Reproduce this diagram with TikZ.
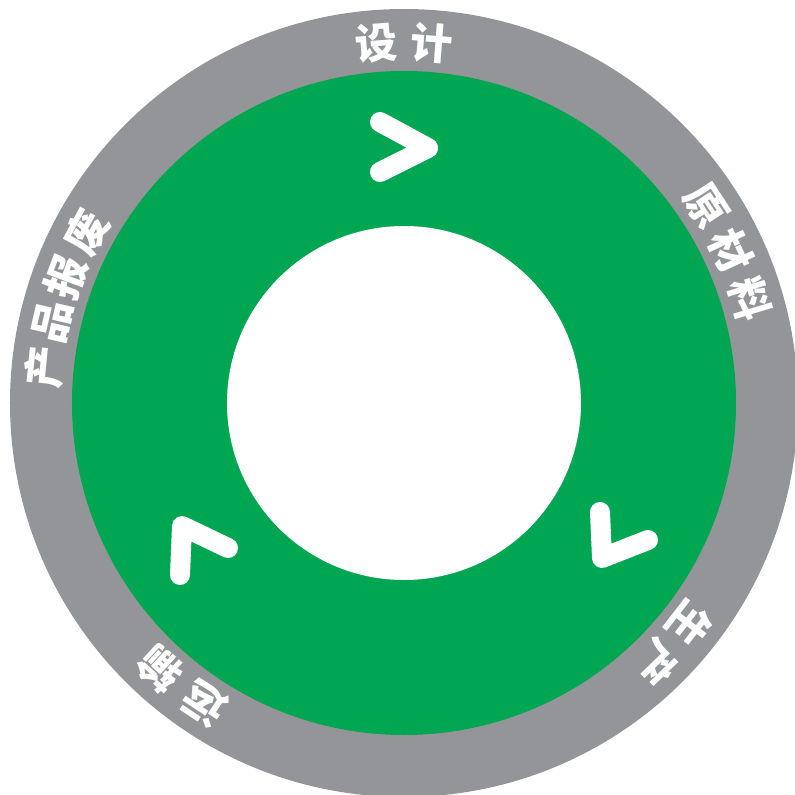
\documentclass[tikz,border=0pt]{standalone}
\usepackage{fontspec}
\newfontfamily\cjk{Noto Sans CJK SC}
\definecolor{ringgray}{RGB}{147, 149, 152}
\definecolor{cyclegreen}{RGB}{0, 166, 81}
\usepackage{tikz}
\usetikzlibrary{shapes, arrows.meta, positioning, calc}

\begin{document}
\begin{tikzpicture}[
  disc/.style={circle, inner sep=0pt, draw=none},
  ringtext/.style={text=white, inner sep=0pt, font=\cjk\bfseries\fontsize{24}{28}\selectfont},
  chevron/.style={white, line width=0.4cm, line cap=round, line join=round}
]
  \useasboundingbox (-8.08, -7.84) rectangle (7.82, 8.06);
  % rings
  \node[disc, fill=ringgray, minimum size=15.76cm] (ring) at (0, 0) {};
  \node[disc, fill=cyclegreen, minimum size=13.28cm] (core) at (0, 0) {};
  \node[disc, fill=white, minimum size=7.08cm] (hub) at (0, 0) {};

  % labels on the ring
  \foreach \ang/\ch [count=\i] in {94.4/设, 85.6/计}
    \node[ringtext, rotate=\ang-90] (design\i) at (\ang:7.22) {\ch};
  \foreach \ang/\ch [count=\i] in {33.2/原, 25/材, 16.8/料}
    \node[ringtext, rotate=\ang-90] (material\i) at (\ang:7.22) {\ch};
  \foreach \ang/\ch [count=\i] in {-37.8/生, -45.9/产}
    \node[ringtext, rotate=\ang-90] (produce\i) at (\ang:7.22) {\ch};
  \foreach \ang/\ch [count=\i] in {-123.6/运, -132.5/输}
    \node[ringtext, rotate=\ang-90] (transport\i) at (\ang:7.22) {\ch};
  \foreach \ang/\ch [count=\i] in {174.3/产, 166.9/品, 159.6/报, 151.7/废}
    \node[ringtext, rotate=\ang-90] (scrap\i) at (\ang:7.22) {\ch};

  % chevrons
  \draw[chevron] (-0.48, 5.62) -- (0.48, 5.10) -- (-0.48, 4.62);
  \draw[chevron] (3.92, -2.18) -- (3.96, -3.10) -- (4.88, -2.74);
  \draw[chevron] (-4.48, -3.44) -- (-4.44, -2.46) -- (-3.52, -2.90);
\end{tikzpicture}
\end{document}
